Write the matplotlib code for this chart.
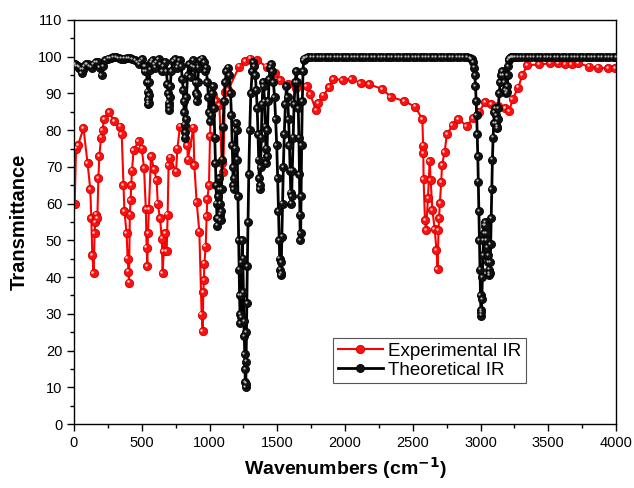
import matplotlib
matplotlib.use("Agg")
import matplotlib.pyplot as plt
import matplotlib.transforms as mtransforms
from matplotlib.ticker import MultipleLocator

plt.rcParams['font.family'] = ['Liberation Sans', 'DejaVu Sans']

# Experimental IR (red)
exp_x = [5, 15, 30, 70, 100, 120, 128, 135, 145, 152, 158, 165, 172, 180, 187, 200, 212, 220,
         258, 295, 340, 352, 365, 372, 388, 396, 402, 406, 412, 418, 422, 428, 440, 477, 500,
         517, 530, 536, 541, 546, 553, 568, 590, 610, 618, 635, 648, 654, 662, 672, 684, 691,
         698, 708, 753, 763, 782, 807, 836, 840, 881, 888, 905, 925, 942, 950, 954, 959, 962,
         972, 979, 984, 996, 1004, 1010, 1023, 1050, 1073, 1090, 1102, 1114, 1139, 1218, 1262,
         1300, 1348, 1422, 1483, 1520, 1580, 1640, 1717, 1742, 1786, 1803, 1840, 1884, 1914,
         1983, 2049, 2116, 2179, 2275, 2337, 2438, 2517, 2571, 2576, 2578, 2580, 2590, 2598,
         2612, 2625, 2632, 2645, 2662, 2675, 2684, 2690, 2694, 2700, 2710, 2716, 2735, 2752,
         2795, 2836, 2898, 2947, 2990, 3033, 3080, 3130, 3180, 3213, 3237, 3279, 3308, 3346,
         3434, 3513, 3575, 3623, 3672, 3722, 3803, 3869, 3943, 3993]
exp_y = [60, 75, 76, 80.5, 71, 64, 56, 46, 41, 52, 55, 57, 56, 67, 73, 78, 80, 83,
         85, 82.5, 81, 79, 65, 58, 52, 45, 41.5, 38.5, 57, 61, 65, 69, 74.6, 77, 75,
         69.6, 58.5, 48, 43, 52, 58.5, 73, 69.4, 66.4, 60, 56, 50.5, 41, 47, 52, 47, 57,
         70.5, 72.5, 68.7, 75, 81, 81, 76, 72, 80.7, 70.5, 60.5, 52.4, 29.8, 25.3, 36, 39.2, 43.7,
         48.3, 56.7, 61.3, 65, 78.4, 86.4, 89.6, 88, 86.8, 71, 68.7, 90.5, 91, 97.3, 98.9,
         99.5, 99.1, 97.3, 95.5, 93.7, 92.5, 91.5, 92, 89.8, 85.5, 87.3, 89.4, 91.8, 93.9,
         93.7, 93.9, 92.8, 92.5, 91.2, 89.1, 87.9, 86.4, 83, 75.8, 73.7, 66.7, 55.5, 52.8,
         61.4, 71.6, 66.4, 58.3, 53, 47.4, 42.2, 52.8, 56, 60.1, 65.8, 70.5, 74, 78.9,
         81.4, 83, 81.2, 83.2, 85, 87.6, 87, 86.5, 86, 85.2, 88.5, 91.6, 95, 97.7,
         97.9, 98.2, 98.2, 98, 98, 98.2, 97.3, 97, 96.8, 96.8]

# Theoretical IR (black)
theo_x = [0, 10, 20, 30, 40, 50, 57, 65, 75, 90, 100, 115, 130, 145, 160, 175, 190, 204, 215,
          230, 250, 270, 290, 310, 330, 350, 370, 390, 410, 430, 450, 470, 480, 490, 505,
          515, 522, 528, 535, 540, 544, 546, 548, 550, 552, 556, 562, 570, 580, 590, 600,
          610, 625, 640, 650, 660, 672, 682, 690, 695, 698, 700, 702, 705, 710, 718, 730, 745, 760,
          770, 780, 790, 800, 806, 810, 813, 816, 819, 822, 825, 830, 838, 848, 860, 870,
          880, 890, 897, 902, 905, 908, 913, 920, 930, 945, 960, 970,
          975, 985, 992, 998, 1003, 1010, 1018, 1026, 1033, 1039, 1044, 1048, 1052, 1055, 1058,
          1062, 1066, 1070, 1073, 1076, 1079, 1082, 1085, 1089, 1094, 1100, 1107, 1115, 1125,
          1135, 1145, 1155, 1162, 1168, 1172, 1175, 1178, 1182, 1188, 1195, 1200, 1205, 1210,
          1215, 1219, 1222, 1225, 1228, 1231, 1234, 1238, 1242, 1246, 1250, 1254, 1257, 1260,
          1262, 1264, 1266, 1268, 1270, 1272, 1275, 1279, 1284, 1290, 1297, 1305, 1315,
          1322, 1330, 1338, 1345, 1352, 1358, 1363, 1367, 1370, 1373, 1377, 1382, 1388, 1395,
          1400, 1406, 1412, 1416, 1420, 1424, 1428, 1434, 1440, 1448, 1456, 1464, 1472, 1480,
          1488, 1496, 1503, 1509, 1514, 1518, 1521, 1524, 1527, 1530, 1534, 1539, 1545, 1552,
          1560, 1568, 1576, 1584, 1590, 1595, 1599, 1602, 1606, 1611, 1617, 1624, 1632, 1640,
          1648, 1655, 1660, 1664, 1667, 1670, 1673, 1676, 1680, 1685, 1690, 1695, 1700, 1710,
          1725, 1750, 1775, 1800, 1825, 1850, 1875, 1900, 1925, 1950, 1975, 2000, 2025, 2050,
          2075, 2100, 2125, 2150, 2175, 2200, 2225, 2250, 2275, 2300, 2325, 2350, 2375, 2400,
          2425, 2450, 2475, 2500, 2525, 2550, 2575, 2600, 2625, 2650, 2675, 2700, 2725, 2750,
          2775, 2800, 2825, 2850, 2875, 2900,
          2925, 2935, 2945, 2952, 2958, 2963, 2968, 2972, 2976, 2980, 2984, 2988, 2992, 2996,
          3000, 3003, 3005, 3007, 3010, 3014, 3018, 3022, 3026, 3030, 3034, 3038, 3042, 3046,
          3050, 3054, 3058, 3062, 3065, 3068, 3071, 3075, 3079, 3083, 3088, 3093, 3098, 3103,
          3108, 3113, 3117, 3120, 3123, 3127, 3132, 3138, 3145, 3152, 3160, 3168, 3176, 3183,
          3189, 3194, 3198, 3201, 3204, 3208, 3213, 3220, 3228, 3236, 3245, 3255,
          3275, 3300, 3325, 3350, 3375, 3400, 3425, 3450, 3475, 3500, 3525, 3550, 3575, 3600,
          3625, 3650, 3675, 3700, 3725, 3750, 3775, 3800, 3825, 3850, 3875, 3900, 3925, 3950,
          3975, 4000]
theo_y = [98, 98, 97.5, 97.5, 97, 96.5, 95.5, 96.5, 97.5, 98, 98, 97.5, 97, 98, 98.5, 98.5, 97, 95, 97.5,
          99, 99.5, 99.7, 99.8, 99.8, 99.7, 99.5, 99.5, 99.7, 99.6, 99.3, 99, 98.5, 98, 98.8, 99.3,
          97.5, 96, 97.5, 96, 93, 90.5, 88.5, 87, 87.5, 89.5, 93, 96.5, 98.5, 99, 98, 97,
          98.5, 99.3, 98, 96, 97.5, 98.5, 96, 92.5, 90, 87.5, 85.5, 86.5, 89, 92, 96, 98.8, 99.3, 97,
          98, 99, 97.5, 94, 91, 88, 85, 81.5, 78, 79.5, 83, 89, 95, 98, 94.5, 97.5,
          99, 97, 93, 90, 88, 89.5, 93, 97, 99, 99.5, 98.5, 96,
          97, 93, 89, 85, 82.5, 84, 90, 92, 86, 78, 71, 65, 60, 56, 54,
          56, 62, 67, 64, 60, 57, 55.5, 58, 64, 72, 81, 88, 93, 96,
          97, 95, 90, 84, 76, 70, 65, 64, 67, 75, 82, 80, 72, 62,
          50, 42, 35, 30, 27.5, 29, 35, 44, 50, 45, 36, 28, 24, 19,
          15, 11.5, 10, 11, 17, 25, 33, 43, 55, 68, 80, 90, 96,
          98.5, 97.5, 95, 91, 86, 79, 72, 67, 64, 65, 70, 78, 87, 93,
          92, 88, 81, 75, 71, 73, 80, 88, 94, 97, 98, 96, 93, 89,
          83, 76, 67, 58, 50, 45, 42, 40.5, 41, 44, 51, 60, 70, 79,
          87, 92, 89, 83, 76, 69, 63, 60, 62, 69, 78, 87, 93, 96,
          93, 86, 78, 68, 57, 50, 52, 62, 76, 88, 96, 99, 99.5, 99.7,
          99.8, 99.8, 99.8, 99.8, 99.8, 99.8, 99.8, 99.8, 99.8, 99.8, 99.8, 99.8, 99.8, 99.8,
          99.8, 99.8, 99.8, 99.8, 99.8, 99.8, 99.8, 99.8, 99.8, 99.8, 99.8, 99.8, 99.8, 99.8,
          99.8, 99.8, 99.8, 99.8, 99.8, 99.8, 99.8, 99.8, 99.8, 99.8, 99.8, 99.8, 99.8, 99.8,
          99.8, 99.8, 99.8, 99.8, 99.8, 99.8,
          99.7, 99.3, 98.5, 97, 95, 92, 88, 84, 79, 73, 66, 58, 50, 42,
          35, 31, 29.5, 30.5, 34, 40, 46, 50, 52, 54, 55, 54, 52, 50,
          48, 46, 44, 42, 40.5, 41, 44, 49, 56, 64, 72, 78, 82, 85,
          86, 84, 82, 80.5, 81, 83, 86, 90, 93, 95, 96, 95, 93, 91,
          90, 90.5, 92, 95, 97.5, 99, 99.5, 99.7, 99.8, 99.8, 99.8, 99.8,
          99.9, 99.9, 99.9, 99.9, 99.9, 99.9, 99.9, 99.9, 99.9, 99.9, 99.9, 99.9, 99.9, 99.9,
          99.9, 99.9, 99.9, 99.9, 99.9, 99.9, 99.9, 99.9, 99.9, 99.9, 99.9, 99.9, 99.9, 99.9,
          99.9, 99.9]

fig = plt.figure(figsize=(6.34, 4.88), dpi=100)
ax = fig.add_axes([74 / 634, 1 - 424 / 488, 542 / 634, 404 / 488])

# small light dots on each marker give the "ball" look
shine = mtransforms.offset_copy(ax.transData, fig=fig, x=-0.9, y=0.9, units='points')

ax.plot(exp_x, exp_y, color='#ff0000', lw=1.5, marker='o', ms=6,
        mfc='#ff1010', mec='#d00000', mew=0.6, label='Experimental IR', zorder=2)
ax.plot(exp_x, exp_y, ls='none', marker='o', ms=1.8, mfc='#ffd0d0', mec='none',
        transform=shine, zorder=2.1)
ax.plot(theo_x, theo_y, color='black', lw=2, marker='o', ms=5.8,
        mfc='#111111', mec='black', mew=0.6, label='Theoretical IR', zorder=3)
ax.plot(theo_x, theo_y, ls='none', marker='o', ms=1.6, mfc='#bbbbbb', mec='none',
        transform=shine, zorder=3.1)

ax.set_xlim(0, 4000)
ax.set_ylim(0, 110)
ax.xaxis.set_major_locator(MultipleLocator(500))
ax.xaxis.set_minor_locator(MultipleLocator(250))
ax.yaxis.set_major_locator(MultipleLocator(10))
ax.yaxis.set_minor_locator(MultipleLocator(5))
ax.tick_params(which='major', direction='out', length=5, width=1, labelsize=10.5)
ax.tick_params(which='minor', direction='out', length=3, width=1)
ax.tick_params(top=False, right=False)
for s in ax.spines.values():
    s.set_linewidth(1)

ax.set_xlabel('Wavenumbers (cm$^{\\mathbf{-1}}$)', fontsize=14, fontweight='bold', labelpad=4)
ax.set_ylabel('Transmittance', fontsize=14.5, fontweight='bold', labelpad=6)

leg = ax.legend(loc='upper left', bbox_to_anchor=(0.478, 0.213), borderaxespad=0,
                fontsize=13.5, fancybox=False, edgecolor='#555555', handlelength=2.4,
                labelspacing=0.1, borderpad=0.25, handletextpad=0.3, framealpha=1)
leg.get_frame().set_linewidth(0.8)

fig.savefig('out.png', dpi=100)
